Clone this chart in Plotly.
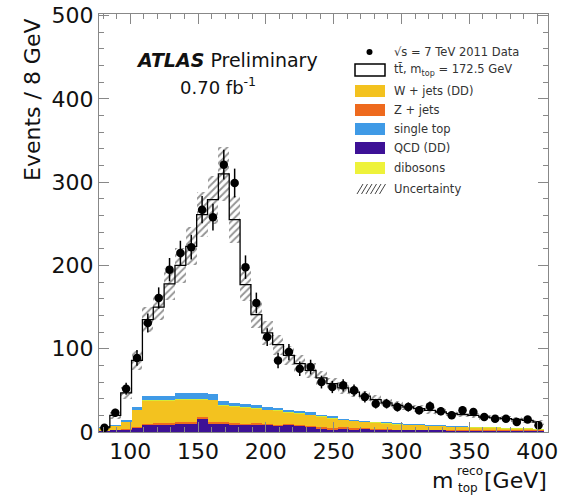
import numpy as np
import plotly.graph_objects as go

# ---------------- data (8 GeV bins) ----------------
bin_centers = [81, 89, 97, 105, 113, 121, 129, 137, 145, 153, 161, 169, 177, 185, 193,
               201, 209, 217, 225, 233, 241, 249, 257, 265, 273, 281, 289, 297, 305,
               313, 321, 329, 337, 345, 353, 361, 369, 377, 385, 393, 401]

data = [5, 23, 52, 89, 131, 161, 195, 215, 222, 267, 258, 321, 299, 198, 155,
        114, 86, 96, 76, 78, 60, 54, 56, 50, 42, 34, 34, 30, 30, 26, 31, 25, 20,
        26, 24, 18, 16, 16, 12, 15, 8]
data_err = [2.2, 4.8, 7.2, 9.4, 11.4, 12.7, 14.0, 14.7, 14.9, 16.3, 16.1, 17.9, 17.3,
            14.1, 12.4, 10.7, 9.3, 9.8, 8.7, 8.8, 7.7, 7.3, 7.5, 7.1, 6.5, 5.8, 5.8,
            5.5, 5.5, 5.1, 5.6, 5.0, 4.5, 5.1, 4.9, 4.2, 4.0, 4.0, 3.5, 3.9, 2.8]

qcd = [1, 2, 3, 5, 8, 9, 9, 10, 10, 16, 10, 10, 9, 8, 9, 8, 7, 8, 7, 6, 4, 3, 4, 3,
       4, 3, 3, 2, 2, 2, 2, 2, 1, 1, 1, 1, 1, 1, 1, 1, 1]
zjets = [0.5, 0.5, 1, 1, 2, 2, 2, 2, 2, 2, 2, 2, 2, 2, 2, 2, 2, 2, 2, 1.5, 1.5, 1.5,
         1.5, 1.5, 1, 1, 1, 1, 1, 1, 1, 1, 1, 1, 1, 1, 1, 1, 1, 1, 1]
wjets = [3.5, 4.5, 8, 20, 27, 26, 26, 27, 27, 21, 26, 19, 19, 19, 17, 16, 16, 13, 13,
         12.5, 12.5, 11.5, 8.5, 8.5, 7, 7, 6, 6, 5, 5, 4, 4, 4, 4, 3, 3, 3, 2, 2, 2, 1]
dibosons = [0.2, 0.3, 0.5, 1, 1, 1, 1, 1, 1, 1, 1, 1, 1, 1, 1, 1, 1, 1, 1, 1, 1, 1,
            0.5, 0.5, 0.5, 0.5, 0.5, 0.5, 0.5, 0.5, 0.5, 0.5, 0.5, 0.5, 0.5, 0.5, 0.5,
            0.5, 0.5, 0.5, 0.5]
single_top = [0.5, 1, 2, 3, 5, 5, 5, 7, 7, 7, 7, 5, 4, 4, 4, 3.5, 3, 3, 2.5, 2.5, 2, 2,
              1.5, 1.5, 1, 1, 1, 1, 1, 1, 0.5, 0.5, 0.5, 0.5, 0.5, 0.5, 0.5, 0.5, 0.5,
              0.5, 0.5]
ttbar = [0.3, 11.7, 32.5, 56, 92, 107, 135, 153, 176, 214, 233, 273, 220, 143, 108,
         88.5, 76, 65, 56.5, 50.5, 44, 39, 37, 33, 29.5, 26.5, 23.5, 21.5, 20.5, 18.5,
         18, 16, 15, 14, 14, 12, 11, 11, 10, 9, 8]
uncertainty = [2, 4, 7, 11, 15, 16, 19, 21, 23, 27, 29, 32, 28, 20, 16, 14, 12, 11, 10,
               9, 8, 7, 7, 6, 6, 5, 5, 5, 4, 4, 4, 4, 3, 3, 3, 3, 3, 3, 3, 3, 3]

x_ticks = [100, 150, 200, 250, 300, 350, 400]
y_ticks = [0, 100, 200, 300, 400, 500]

BIN_W = 8
FONT = "DejaVu Sans, Verdana, sans-serif"

stack = [
    ("QCD (DD)", qcd, "#3d1196"),
    ("Z + jets", zjets, "#ee6a1e"),
    ("W + jets (DD)", wjets, "#f3c21f"),
    ("dibosons", dibosons, "#d6ea38"),
    ("single top", single_top, "#3f9ae6"),
]

fig = go.Figure()
base = np.zeros(len(bin_centers))
for name, vals, col in stack:
    v = np.array(vals, dtype=float)
    fig.add_trace(go.Bar(x=bin_centers, y=v, base=base.copy(), width=BIN_W,
                         marker=dict(color=col, line=dict(width=0)), name=name,
                         showlegend=False))
    base = base + v
total = base + np.array(ttbar, dtype=float)
unc = np.array(uncertainty, dtype=float)

# hatched uncertainty band
fig.add_trace(go.Bar(x=bin_centers, y=2 * unc, base=total - unc, width=BIN_W,
                     marker=dict(color="rgba(0,0,0,0)", line=dict(width=0),
                                 pattern=dict(shape="/", fgcolor="#2a2a2a",
                                              bgcolor="rgba(0,0,0,0)", size=5,
                                              solidity=0.38)),
                     showlegend=False))

# MC total step line
fig.add_trace(go.Scatter(x=bin_centers, y=total, mode="lines",
                         line=dict(color="black", width=1.3, shape="hvh"),
                         showlegend=False))

# data
fig.add_trace(go.Scatter(x=bin_centers, y=data, mode="markers",
                         marker=dict(color="black", size=8.5),
                         error_y=dict(type="data", array=data_err, color="black",
                                      thickness=1.5, width=0),
                         showlegend=False))

FIG_W, FIG_H = 567, 498
# plot frame in window pixels
L, R, T, B = 99, 548, 14, 432
W_PX, H_PX = R - L, B - T


def px(x):
    return (x - L) / W_PX


def py(y):
    return (B - y) / H_PX


shapes = []
annotations = []

# legend
leg_x0, leg_x1 = 355, 385
text_x = 392
legend_rows = [
    ("√s = 7 TeV 2011 Data", 52, "data", None),
    ("tt̄, m<sub>top</sub> = 172.5 GeV", 70, "box", None),
    ("W + jets (DD)", 91, "fill", "#f3c21f"),
    ("Z + jets", 110, "fill", "#ee6a1e"),
    ("single top", 129, "fill", "#3f9ae6"),
    ("QCD (DD)", 148, "fill", "#3d1196"),
    ("dibosons", 168, "fill", "#eef23a"),
    ("Uncertainty", 189, "hatch", None),
]
for label, yc, kind, col in legend_rows:
    if kind == "data":
        shapes.append(dict(type="circle", xref="paper", yref="paper",
                           x0=px(366.5), x1=px(372.5), y0=py(yc + 3), y1=py(yc - 3),
                           fillcolor="black", line=dict(width=0)))
    elif kind == "box":
        shapes.append(dict(type="rect", xref="paper", yref="paper",
                           x0=px(leg_x0), x1=px(leg_x1), y0=py(yc + 6), y1=py(yc - 6),
                           fillcolor="white", line=dict(color="black", width=1.5)))
    elif kind == "fill":
        shapes.append(dict(type="rect", xref="paper", yref="paper",
                           x0=px(leg_x0), x1=px(leg_x1), y0=py(yc + 6), y1=py(yc - 6),
                           fillcolor=col, line=dict(width=0)))
    else:
        for k in range(6):
            xs = leg_x0 + 2 + k * 4.5
            shapes.append(dict(type="line", xref="paper", yref="paper",
                               x0=px(xs), x1=px(xs + 6), y0=py(yc + 5), y1=py(yc - 5),
                               line=dict(color="#444", width=1)))
    annotations.append(dict(text=label, xref="paper", yref="paper", x=px(text_x),
                            y=py(yc), xanchor="left", yanchor="middle", showarrow=False,
                            font=dict(family=FONT, size=11.5, color="#333")))

# ATLAS label
annotations.append(dict(text="<b><i>ATLAS</i></b> Preliminary", xref="paper",
                        yref="paper", x=px(134), y=py(60), xanchor="left",
                        yanchor="middle", showarrow=False,
                        font=dict(family=FONT, size=19, color="#111")))
annotations.append(dict(text="0.70 fb<sup>-1</sup>", xref="paper", yref="paper",
                        x=px(178), y=py(86), xanchor="left", yanchor="middle",
                        showarrow=False, font=dict(family=FONT, size=18, color="#111")))

# axis titles
annotations.append(dict(text="Events / 8 GeV", xref="paper", yref="paper",
                        x=px(33), y=py(100), xanchor="center", yanchor="middle",
                        textangle=-90, showarrow=False,
                        font=dict(family=FONT, size=22, color="#111")))
annotations.append(dict(text="m", xref="paper", yref="paper", x=px(455), y=py(480),
                        xanchor="right", yanchor="middle", showarrow=False,
                        font=dict(family=FONT, size=22, color="#111")))
annotations.append(dict(text="reco", xref="paper", yref="paper", x=px(455), y=py(471),
                        xanchor="left", yanchor="middle", showarrow=False,
                        font=dict(family=FONT, size=12, color="#111")))
annotations.append(dict(text="top", xref="paper", yref="paper", x=px(456), y=py(488),
                        xanchor="left", yanchor="middle", showarrow=False,
                        font=dict(family=FONT, size=12, color="#111")))
annotations.append(dict(text="[GeV]", xref="paper", yref="paper", x=px(549), y=py(480),
                        xanchor="right", yanchor="middle", showarrow=False,
                        font=dict(family=FONT, size=22, color="#111")))

axis_common = dict(showgrid=False, zeroline=False, showline=True, linecolor="#888",
                   linewidth=1, mirror="allticks", ticks="inside", ticklen=10,
                   tickcolor="#888", tickwidth=1, automargin=False,
                   tickfont=dict(family=FONT, size=22, color="#111"))

fig.update_layout(
    width=FIG_W, height=FIG_H,
    margin=dict(l=L, r=FIG_W - R, t=T, b=FIG_H - B, autoexpand=False),
    paper_bgcolor="white", plot_bgcolor="white",
    barmode="overlay", bargap=0,
    showlegend=False,
    hovermode=False,
    xaxis=dict(range=[77, 408], tickvals=x_ticks,
               minor=dict(dtick=10, tick0=0, ticks="inside", ticklen=5,
                          tickcolor="#888"),
               **axis_common),
    yaxis=dict(range=[0, 502], tickvals=y_ticks,
               minor=dict(dtick=20, tick0=0, ticks="inside", ticklen=5,
                          tickcolor="#888"),
               **axis_common),
    shapes=shapes,
    annotations=annotations,
)

# remove the default 8px page margin so the figure fills the window exactly
fig.write_html("out.html",
               config={"displayModeBar": False, "staticPlot": True},
               post_script="document.body.style.margin='0';"
                           "document.body.style.overflow='hidden';")
